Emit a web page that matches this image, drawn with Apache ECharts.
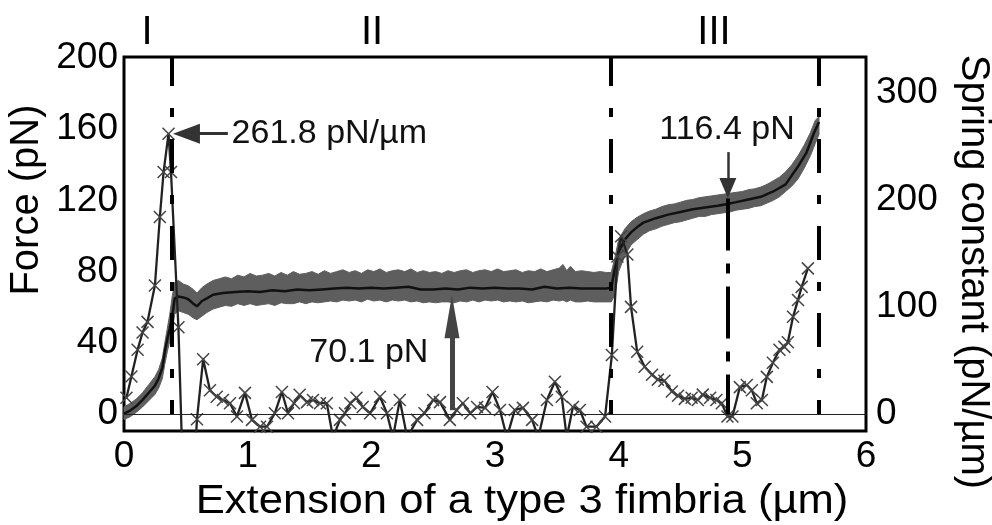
<!DOCTYPE html>
<html><head><meta charset="utf-8">
<script src="https://cdn.jsdelivr.net/npm/echarts@6/dist/echarts.min.js"></script>
<style>html,body{margin:0;padding:0;background:#fff}#c{width:992px;height:525px}</style>
</head><body><div id="c"></div>
<script>
var FONT = '"Liberation Sans", Arial, Helvetica, sans-serif';

// ---- tick labels ----
var forceTicks = [0, 40, 80, 120, 160, 200];
var springTicks = [0, 100, 200, 300];
var regionLabels = ['I', 'II', 'III'];

// ---- smoothed force (black line), pN ----
var forceX = [0.00,0.05,0.10,0.15,0.20,0.25,0.28,0.31,0.33,0.35,0.37,0.39,0.41,0.44,0.48,0.52,0.56,0.59,0.63,0.67,0.72,0.80,0.90,1.00,1.10,1.20,1.30,1.40,1.50,1.60,1.70,1.80,1.90,2.00,2.10,2.20,2.30,2.40,2.50,2.60,2.70,2.80,2.90,3.00,3.10,3.20,3.30,3.40,3.50,3.60,3.70,3.80,3.90,3.94,3.97,4.00,4.05,4.10,4.15,4.20,4.30,4.40,4.50,4.60,4.70,4.80,4.88,4.95,5.05,5.15,5.25,5.35,5.45,5.52,5.58,5.62];
var forceF = [0.3,2,4.5,8,12,16,20,26,35,42,48,55,65,66,65.5,64.5,62,60.5,63.5,65,67,68,68.5,69,68.5,69.5,69,70,69.5,70,70.5,71,70.5,71,70.5,71,71.5,70,70,70.5,70,71,70.5,71,70.5,70.5,70,71.5,70.5,71,70.5,70.5,70.5,71,82,91,98,102,105,107.5,110,112,113.5,115,116,117,118,119,120.5,122,125,129,139,147,158,164];

// ---- raw force band envelope (grey), pN ----
var bandX = [0.00,0.05,0.10,0.15,0.20,0.25,0.28,0.31,0.33,0.35,0.37,0.39,0.41,0.44,0.48,0.52,0.56,0.59,0.63,0.67,0.72,0.77,0.82,0.87,0.92,0.97,1.02,1.07,1.12,1.17,1.22,1.27,1.32,1.37,1.42,1.47,1.52,1.57,1.62,1.67,1.72,1.77,1.82,1.87,1.92,1.97,2.02,2.07,2.12,2.17,2.22,2.27,2.32,2.37,2.42,2.47,2.52,2.57,2.62,2.67,2.72,2.77,2.82,2.87,2.92,2.97,3.02,3.07,3.12,3.17,3.22,3.27,3.32,3.37,3.42,3.47,3.52,3.55,3.58,3.61,3.65,3.70,3.75,3.80,3.85,3.90,3.94,3.97,4.00,4.05,4.10,4.15,4.20,4.25,4.30,4.35,4.40,4.45,4.50,4.55,4.60,4.65,4.70,4.75,4.80,4.85,4.90,4.95,5.00,5.05,5.10,5.15,5.20,5.25,5.30,5.35,5.40,5.45,5.50,5.55,5.59,5.62];
var bandHi = [4,6,8.5,12,16.5,21,25,31.5,40,48,56,66,74,75,73,72,70,68,71,73,75,76,77,76,78,77,79,77.5,78,79,77.5,79.5,78,80,78.5,79,80,78.5,80.5,79,80,81,79.5,80.5,79,81,80,81.5,79.5,80.5,81,80,81.5,79.5,80.5,79.5,80,79,80.5,79.5,80.5,81,79.5,80.5,81,80,81.5,80,80.5,81,79.5,80.5,80,81.5,80,81,82,84,80.5,83,80,80.5,80,79.5,80,79.5,79.5,88,98,104,108,110.5,112.5,114,115,116.5,117.5,118,119,120,120.5,121.5,122,122.5,123,123.5,124,124.5,125,126,126.5,127.5,129,131,133,136,140,145,151,158,165,167];
var bandLo = [-3,-1.5,1,4,7.5,11,14.5,20,28,35,41,47,56,58,57,56,54,53,55,57,59,60,61,60.5,62,61,62,61,61.5,62,61,62.5,62,62,63,62,63,62.5,63,63.5,63,64,63.5,64,63,64.5,63.5,64,63,64,63.5,64,63,63.5,62.5,63,62.5,63,63,62.5,63.5,63,64,63,64,63.5,64,63,63.5,63,63.5,62.5,63,63.5,63,64,63.5,64,63,64,63,63,63.5,63,63,63,63,67,80,89,95,98,101,103,104,105.5,106.5,107.5,108,109,110,111,111,112,112.5,113,113.5,114.5,115,115.5,116.5,117,118.5,120,122,125,128,132,138,145,152,157];

// ---- spring constant (x markers), pN/um ----
var springX = [0.02,0.06,0.11,0.15,0.19,0.25,0.29,0.32,0.36,0.38,0.44,0.49,0.545,0.59,0.64,0.695,0.75,0.80,0.857,0.913,0.978,1.035,1.10,1.156,1.22,1.277,1.326,1.375,1.42,1.48,1.528,1.585,1.64,1.69,1.746,1.787,1.83,1.88,1.93,1.99,2.07,2.126,2.175,2.23,2.29,2.37,2.43,2.50,2.555,2.635,2.69,2.74,2.80,2.855,2.92,2.98,3.04,3.096,3.16,3.226,3.30,3.35,3.42,3.484,3.54,3.58,3.63,3.686,3.74,3.82,3.89,3.945,3.99,4.02,4.07,4.10,4.15,4.21,4.27,4.317,4.37,4.43,4.48,4.535,4.59,4.64,4.68,4.74,4.79,4.834,4.88,4.92,4.98,5.036,5.077,5.117,5.158,5.198,5.247,5.30,5.34,5.368,5.41,5.45,5.48,5.53];
var springK = [15,35,60,76,86,120,184,226,261.8,226,81,-110,-100,-5,51,22,16,13,10,-2.5,19.6,-5.6,-12,-12,0.6,20.5,0.6,10,17.8,11,13,10,10,-22,-5.6,0.6,10,15,6.5,0.6,16,0.6,-22,13,-22,-5.6,0.6,13,11,-5.6,3.7,10,0.6,6.5,5.6,20.5,3.7,-22,3.7,5.6,-5.6,-22,13,30,16,-22,6.5,3.7,-12,-12,-2.5,55,147,166,149,100,58,44,36.5,32,31,21,17,14,15,13,18,15,13,10,-2.5,-2.5,25,27,22,10,13,34.6,47.7,60,62.6,67,90.7,106.5,118.7,136];

// ---- annotated values ----
var regionBounds = [0.39, 3.94, 5.62];
var peakSpring = 261.8;      // pN/um
var plateauForce = 70.1;     // pN
var stageThreeForce = 116.4; // pN

function pairs(xs, ys) { return xs.map(function (x, i) { return [x, ys[i]]; }); }

var chart = echarts.init(document.getElementById('c'), null, { renderer: 'canvas' });

var dashDot = { type: [34, 22, 9, 22], dashOffset: 20, width: 4, color: '#000' };
var labelStyle = { fontSize: 37, color: '#000', fontFamily: FONT };
var annot = function (txt) {
  return { show: true, position: 'inside', formatter: txt, fontSize: 34, color: '#111', fontFamily: FONT };
};
function title(txt, x, y, rot, sx) {
  return { type: 'text', x: x, y: y, rotation: rot || 0, scaleX: sx || 1,
    style: { text: txt, fontSize: 40, fontFamily: FONT, fill: '#000', align: 'center', verticalAlign: 'middle' } };
}

var option = {
  animation: false,
  backgroundColor: '#fff',
  grid: { left: 124, right: 126, top: 57, bottom: 94, show: true, borderColor: '#000', borderWidth: 3 },
  xAxis: {
    type: 'value', min: 0, max: 6, interval: 1,
    axisLine: { show: false }, axisTick: { show: false }, splitLine: { show: false },
    axisLabel: Object.assign({ margin: 7 }, labelStyle)
  },
  yAxis: [
    {
      type: 'value', min: -9.5, max: 200.5,
      axisLine: { show: false }, axisTick: { show: false }, splitLine: { show: false },
      axisLabel: Object.assign({ margin: 6, customValues: forceTicks }, labelStyle)
    },
    {
      type: 'value', min: -16, max: 333.5, position: 'right',
      axisLine: { show: false }, axisTick: { show: false }, splitLine: { show: false },
      axisLabel: Object.assign({ margin: 10, customValues: springTicks }, labelStyle)
    }
  ],
  graphic: [
    title('Extension of a type 3 fimbria (µm)', 522, 502, 0, 1.09),
    title('Force (pN)', 27, 200, Math.PI / 2),
    title('Spring constant (pN/µm)', 973, 272, -Math.PI / 2),
    title(regionLabels[0], 147, 33),
    title(regionLabels[1], 372, 33),
    title(regionLabels[2], 714, 33)
  ],
  series: [
    {
      type: 'custom', name: 'raw force', xAxisIndex: 0, yAxisIndex: 0, silent: true, z: 1,
      data: [[0, 0]],
      renderItem: function (params, api) {
        var pts = [];
        for (var i = 0; i < bandX.length; i++) pts.push(api.coord([bandX[i], bandHi[i]]));
        for (var j = bandX.length - 1; j >= 0; j--) pts.push(api.coord([bandX[j], bandLo[j]]));
        return { type: 'polygon', shape: { points: pts }, style: { fill: '#5e5e5e', stroke: '#5e5e5e', lineWidth: 1 } };
      }
    },
    {
      type: 'line', name: 'force', xAxisIndex: 0, yAxisIndex: 0, z: 3,
      data: pairs(forceX, forceF), symbol: 'none', silent: true,
      lineStyle: { color: '#111', width: 2.5 },
      markLine: {
        silent: true, symbol: ['none', 'none'], label: { show: false }, animation: false,
        data: [
          { yAxis: 0, lineStyle: { type: 'solid', width: 1, color: '#222' } },
          [{ coord: [regionBounds[0], 0], lineStyle: dashDot }, { coord: [regionBounds[0], 200.5] }],
          [{ coord: [regionBounds[1], 0], lineStyle: dashDot }, { coord: [regionBounds[1], 200.5] }],
          [{ coord: [regionBounds[2], 0], lineStyle: dashDot }, { coord: [regionBounds[2], 200.5] }],
          [{ coord: [4.883, 121], lineStyle: { type: [52, 13, 10, 13], width: 4, color: '#000' } }, { coord: [4.883, 0] }],
          [{ coord: [2.652, 2.2], symbol: 'none', lineStyle: { type: 'solid', width: 5, color: '#444' } },
           { coord: [2.652, 54.7], symbol: 'triangle', symbolSize: [15, 43] }],
          [{ coord: [4.883, 147.1], symbol: 'none', lineStyle: { type: 'solid', width: 2.5, color: '#333' } },
           { coord: [4.883, 126.9], symbol: 'triangle', symbolSize: [17, 20] }]
        ]
      },
      markPoint: {
        silent: true, symbol: 'circle', symbolSize: 1, itemStyle: { color: 'rgba(0,0,0,0)' },
        data: [
          { coord: [1.98, 34.3], label: annot(plateauForce.toFixed(1) + ' pN') },
          { coord: [4.876, 159.5], label: annot(stageThreeForce.toFixed(1) + ' pN') }
        ]
      }
    },
    {
      type: 'line', name: 'spring constant', xAxisIndex: 0, yAxisIndex: 1, z: 4,
      data: pairs(springX, springK), silent: true,
      symbol: 'path://M0 0L10 10M10 0L0 10', symbolSize: 12,
      lineStyle: { color: '#222', width: 2.3 },
      itemStyle: { color: '#444', borderColor: '#444', borderWidth: 1.5 },
      markLine: {
        silent: true, symbol: ['none', 'none'], label: { show: false }, animation: false,
        data: [
          [{ coord: [0.84, peakSpring], symbol: 'none', lineStyle: { type: 'solid', width: 3, color: '#333' } },
           { coord: [0.505, peakSpring], symbol: 'triangle', symbolSize: [20, 27] }]
        ]
      },
      markPoint: {
        silent: true, symbol: 'circle', symbolSize: 1, itemStyle: { color: 'rgba(0,0,0,0)' },
        data: [
          { coord: [1.66, peakSpring], label: annot(peakSpring.toFixed(1) + ' pN/µm') }
        ]
      }
    }
  ]
};
chart.setOption(option);
</script>
</body></html>
